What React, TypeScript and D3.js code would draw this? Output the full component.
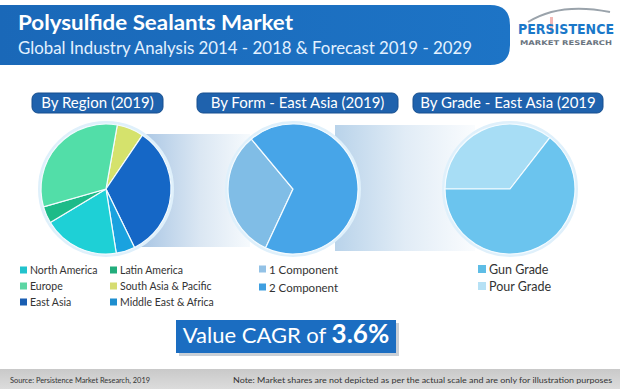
import React from 'react'
import * as d3 from 'd3'

// pie 1 - by region, listed in legend order
const regionNames = ['North America', 'Latin America', 'Europe', 'South Asia & Pacific', 'East Asia', 'Middle East & Africa']
const regionShares = [18.9, 4.2, 32.2, 6.7, 33.3, 4.7]
const regionColors = ['#1ed0d6', '#1dbb88', '#52dea8', '#d5e26c', '#1567c6', '#1aa2df']
const regionLegendColors = ['#22c3cd', '#22ad7c', '#5cd6a4', '#d6dc72', '#1a5eb2', '#1e8ecf']
// clockwise from the top, as drawn
const regionPieOrder = ['South Asia & Pacific', 'East Asia', 'Middle East & Africa', 'North America', 'Latin America', 'Europe']

// pie 2 - by form
const formNames = ['1 Component', '2 Component']
const formShares = [32, 68]
const formColors = ['#80bde6', '#47a5e8']
const formLegendColors = ['#93c2e6', '#3f9fe0']

// pie 3 - by grade
const gradeNames = ['Gun Grade', 'Pour Grade']
const gradeShares = [64.5, 35.5]
const gradeColors = ['#6bc4ee', '#a7ddf5']
const gradeLegendColors = ['#5ebde6', '#b6e1f5']
const gradePieOrder = ['Pour Grade', 'Gun Grade']

const sectionTitles = ['By Region (2019)', 'By Form - East Asia (2019)', 'By Grade - East Asia (2019']
const cagr = '3.6%'

const W = 620
const H = 389
const FONT = 'Lato, "Open Sans", sans-serif'
const R = 65
const deg = (d: number) => (d * Math.PI) / 180

function Pie(props: { cx: number; cy: number; names: string[]; values: number[]; colors: string[]; start: number }) {
  const { cx, cy, names, values, colors, start } = props
  const items = names.map((n, i) => ({ name: n, value: values[i], color: colors[i] }))
  const pie = d3.pie<any>().sort(null).value((d: any) => d.value)
    .startAngle(deg(start)).endAngle(deg(start) + Math.PI * 2)
  const arc = d3.arc<any>().innerRadius(0).outerRadius(R)
  return (
    <g transform={`translate(${cx},${cy})`}>
      <circle r={R + 1.5} fill="none" stroke="#dff0fb" strokeWidth={3} />
      {pie(items).map((a: any) => (
        <path key={a.data.name} d={arc(a) as string} fill={a.data.color} stroke="#f4fbff" strokeWidth={1.2} />
      ))}
    </g>
  )
}

function Legend(props: { x: number; y: number; names: string[]; colors: string[]; dy: number; size: number; box: number }) {
  const { x, y, names, colors, dy, size, box } = props
  return (
    <g>
      {names.map((n, i) => (
        <g key={n} transform={`translate(${x},${y + i * dy})`}>
          <rect x={0} y={-box / 2 - 1} width={box} height={box} fill={colors[i]} />
          <text x={box + 3} y={0} dy="0.32em" fontSize={size} fill="#333" fontFamily={FONT}>{n}</text>
        </g>
      ))}
    </g>
  )
}

export default function App() {
  const byName = (names: string[], vals: any[]) => (n: string) => vals[names.indexOf(n)]
  const rShare = byName(regionNames, regionShares)
  const rColor = byName(regionNames, regionColors)
  const gShare = byName(gradeNames, gradeShares)
  const gColor = byName(gradeNames, gradeColors)

  const pills = [
    { x: 32, w: 131 },
    { x: 197, w: 201 },
    { x: 413, w: 190 },
  ]

  return (
    <svg width={W} height={H} style={{ position: 'absolute', left: 0, top: 0 }} fontFamily={FONT}>
      <defs>
        <linearGradient id="hdr" x1="0" x2="1" y1="0" y2="0">
          <stop offset="0" stopColor="#1a68b8" />
          <stop offset="1" stopColor="#1d74c6" />
        </linearGradient>
        <linearGradient id="band1" x1="0" x2="1" y1="0" y2="0">
          <stop offset="0" stopColor="#a9c6e4" />
          <stop offset="0.55" stopColor="#dbe7f3" />
          <stop offset="1" stopColor="#f6fafd" />
        </linearGradient>
        <linearGradient id="band2" x1="0" x2="1" y1="0" y2="0">
          <stop offset="0" stopColor="#b9d3ea" />
          <stop offset="0.5" stopColor="#e1ecf6" />
          <stop offset="1" stopColor="#fafcfe" />
        </linearGradient>
        <linearGradient id="foot" x1="0" x2="0" y1="0" y2="1">
          <stop offset="0" stopColor="#c9c9c9" />
          <stop offset="1" stopColor="#dcdcdc" />
        </linearGradient>
      </defs>
      <rect width={W} height={H} fill="#ffffff" />

      {/* header */}
      <path d="M0,5 H490 Q510,5 510,25 V45 Q510,65 490,65 H0 Z" fill="url(#hdr)" />
      <text x={18} y={30} fontSize={21} fontWeight="bold" fill="#ffffff" textLength={275} lengthAdjust="spacingAndGlyphs">Polysulfide Sealants Market</text>
      <text x={18} y={54} fontSize={17} fill="#e3f1ff" textLength={454} lengthAdjust="spacingAndGlyphs">Global Industry Analysis 2014 - 2018 &amp; Forecast 2019 - 2029</text>

      {/* logo */}
      <path d="M528,22 Q560,2 610,12" fill="none" stroke="#9aa3ab" strokeWidth={2} />
      <rect x={550} y={17} width={3} height={17} fill="#d9342b" opacity={0.35} />
      <text x={518} y={34} fontSize={13.5} fontWeight="bold" fill="#1a78c9" textLength={96} lengthAdjust="spacingAndGlyphs"
        fontFamily='"DejaVu Sans Condensed", "Liberation Sans", sans-serif'>PERSISTENCE</text>
      <text x={520} y={45} fontSize={6.5} fill="#6b7580" textLength={92} lengthAdjust="spacingAndGlyphs"
        fontFamily='"DejaVu Sans", sans-serif' fontWeight="bold">MARKET RESEARCH</text>

      {/* connector bands */}
      <rect x={140} y={134} width={110} height={113} fill="url(#band1)" />
      <rect x={335} y={125} width={140} height={126} fill="url(#band2)" />

      {/* section pills */}
      {pills.map((p, i) => (
        <g key={i}>
          <rect x={p.x} y={93} width={p.w} height={20} rx={6} fill="#1f62ad" stroke="#174f8f" strokeWidth={1} />
          <text x={p.x + p.w / 2} y={103} dy="0.34em" fontSize={15} fill="#ffffff" textAnchor="middle">{sectionTitles[i]}</text>
        </g>
      ))}

      {/* pies */}
      <Pie cx={106} cy={189} names={regionPieOrder} values={regionPieOrder.map(rShare)} colors={regionPieOrder.map(rColor)} start={10} />
      <Pie cx={293} cy={189} names={formNames} values={formShares} colors={formColors} start={205} />
      <Pie cx={510} cy={189} names={gradePieOrder} values={gradePieOrder.map(gShare)} colors={gradePieOrder.map(gColor)} start={270} />

      {/* legends */}
      <Legend x={20} y={271} dy={16} size={10.5} box={7}
        names={[regionNames[0], regionNames[2], regionNames[4]]}
        colors={[regionLegendColors[0], regionLegendColors[2], regionLegendColors[4]]} />
      <Legend x={110} y={271} dy={16} size={10.5} box={7}
        names={[regionNames[1], regionNames[3], regionNames[5]]}
        colors={[regionLegendColors[1], regionLegendColors[3], regionLegendColors[5]]} />
      <Legend x={259} y={270} dy={18} size={11.5} box={7} names={formNames} colors={formLegendColors} />
      <Legend x={478} y={270} dy={17} size={12.5} box={8} names={gradeNames} colors={gradeLegendColors} />

      {/* CAGR */}
      <rect x={179} y={323} width={220} height={33} fill="#c9cfd6" />
      <rect x={176} y={320} width={220} height={33} fill="#1b6dc1" />
      <text x={286} y={337} dy="0.35em" textAnchor="middle" fill="#ffffff">
        <tspan fontSize={22}>Value CAGR of </tspan>
        <tspan fontSize={26} fontWeight="bold">{cagr}</tspan>
      </text>

      {/* footer */}
      <rect x={0} y={369} width={W} height={20} fill="url(#foot)" />
      <text x={10} y={380} dy="0.32em" fontSize={8} fill="#333" textLength={140} lengthAdjust="spacingAndGlyphs">Source: Persistence Market Research, 2019</text>
      <text x={233} y={380} dy="0.32em" fontSize={8} fill="#333" textLength={379} lengthAdjust="spacingAndGlyphs">Note: Market shares are not depicted as per the actual scale and are only for illustration purposes</text>
    </svg>
  )
}
